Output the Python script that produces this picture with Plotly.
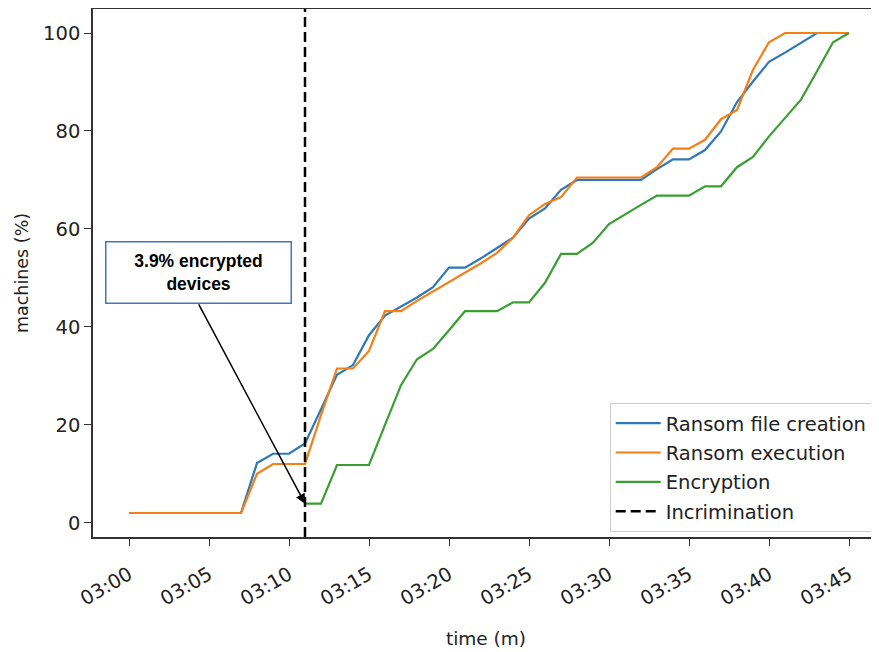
import plotly.graph_objects as go

# ---------------- data ----------------
MINUTES = list(range(0, 46))                       # 03:00 ... 03:45, one point per minute
ENC_MINUTES = list(range(11, 46))                  # encryption starts at 03:11

RANSOM_FILE_CREATION = [2, 2, 2, 2, 2, 2, 2, 2, 12.2, 14.1, 14.1, 16.2, 23.2, 30.2, 32.2, 38.3,
                        42.3, 44.2, 46.0, 48.1, 52.1, 52.1, 54.0, 56.1, 58.2, 62.1, 64.2, 68.0,
                        70.0, 70.0, 70.0, 70.0, 70.0, 72.2, 74.2, 74.2, 76.1, 79.9, 85.9, 90.1,
                        94.1, 96.0, 98.0, 100, 100, 100]
RANSOM_EXECUTION = [2, 2, 2, 2, 2, 2, 2, 2, 10.0, 12.0, 12.0, 12.0, 22.0, 31.5, 31.5, 35.1,
                    43.2, 43.2, 45.3, 47.2, 49.1, 51.0, 53.0, 55.1, 58.2, 62.8, 65.1, 66.5,
                    70.5, 70.5, 70.5, 70.5, 70.5, 72.6, 76.4, 76.4, 78.2, 82.4, 84.3, 92.5,
                    98.1, 100, 100, 100, 100, 100]
ENCRYPTION = [3.9, 3.9, 11.8, 11.8, 11.8, 20.0, 28.1, 33.4, 35.5, 39.3, 43.2, 43.2, 43.2,
              45.0, 45.0, 49.0, 54.9, 54.9, 57.2, 61.0, 63.0, 64.9, 66.8, 66.8, 66.8, 68.7,
              68.7, 72.6, 74.7, 78.9, 82.7, 86.4, 92.2, 98.1, 100]
INCRIMINATION_MINUTE = 11
ANNOTATION_TEXT = "3.9% encrypted<br>devices"

SERIES_NAMES = ["Ransom file creation", "Ransom execution", "Encryption", "Incrimination"]
COLORS = ["#2f78b8", "#f57f17", "#3a9e32", "black"]

DAY = "2021-01-01"


def t(m):
    total = 3 * 60 * 60 + m * 60
    h = int(total // 3600)
    mm = int((total % 3600) // 60)
    ss = total % 60
    return f"{DAY} {h:02d}:{mm:02d}:{ss:06.3f}"


x_all = [t(m) for m in MINUTES]
x_enc = [t(m) for m in ENC_MINUTES]

DASH = "10px,5px"

fig = go.Figure()
fig.add_trace(go.Scatter(x=x_all, y=RANSOM_FILE_CREATION, mode="lines", name=SERIES_NAMES[0],
                         legendgroup="a", line=dict(color=COLORS[0], width=2.2)))
fig.add_trace(go.Scatter(x=x_all, y=RANSOM_EXECUTION, mode="lines", name=SERIES_NAMES[1],
                         legendgroup="b", line=dict(color=COLORS[1], width=2.2)))
fig.add_trace(go.Scatter(x=x_enc, y=ENCRYPTION, mode="lines", name=SERIES_NAMES[2],
                         legendgroup="c", line=dict(color=COLORS[2], width=2.2)))
# legend entry for the vertical line
fig.add_trace(go.Scatter(x=[None], y=[None], mode="lines", name=SERIES_NAMES[3],
                         legendgroup="d", line=dict(color=COLORS[3], width=2.5, dash=DASH)))

fig.add_vline(x=t(INCRIMINATION_MINUTE), line=dict(color="black", width=2.5, dash=DASH))

FONT = "DejaVu Sans"

# arrow
fig.add_annotation(x=t(INCRIMINATION_MINUTE), y=ENCRYPTION[0], ax=t(4.31), ay=44.9,
                   axref="x", ayref="y", xref="x", yref="y", text="", showarrow=True,
                   arrowhead=2, arrowsize=1.3, arrowwidth=1.5, arrowcolor="black")
# text box
fig.add_annotation(x=t(4.34), y=51.2, xref="x", yref="y", text=ANNOTATION_TEXT,
                   showarrow=False, width=182, height=58, borderpad=1, borderwidth=1.5,
                   bordercolor="#4472C4", bgcolor="white", align="center",
                   font=dict(family="Liberation Sans", size=17.5, color="black", weight="bold"))

# page body has an 8px margin, so the figure is sized to end exactly at the window edge
fig.update_layout(
    width=871, height=644,
    margin=dict(l=85, r=0, t=1, b=115),
    paper_bgcolor="white", plot_bgcolor="white",
    font=dict(family=FONT, size=19, color="#222"),
    showlegend=True,
    legend=dict(x=0.992, y=0.0095, xanchor="right", yanchor="bottom",
                bgcolor="rgba(255,255,255,0.85)", bordercolor="#cccccc", borderwidth=1,
                tracegroupgap=1, itemwidth=45,
                font=dict(family=FONT, size=19.5, color="#222")),
)
fig.update_xaxes(
    type="date", range=[t(-2.25), t(46.875)],
    tickformat="%H:%M", dtick=5 * 60 * 1000, tick0=t(0), tickangle=-30,
    ticks="outside", ticklen=7, tickwidth=1.4, tickcolor="#333",
    ticklabelstandoff=10, tickfont=dict(size=19.5),
    showline=True, linecolor="#333", linewidth=1.5, mirror=True,
    showgrid=False, zeroline=False,
    title=dict(text="time (m)", standoff=23, font=dict(family=FONT, size=18.5)),
)
fig.update_yaxes(
    range=[-2.9, 104.9], dtick=20, tick0=0,
    ticks="outside", ticklen=7, tickwidth=1.4, tickcolor="#333",
    tickfont=dict(size=19.5),
    showline=True, linecolor="#333", linewidth=1.5, mirror=False,
    showgrid=False, zeroline=False,
    title=dict(text="machines (%)", standoff=10, font=dict(family=FONT, size=17.5)),
)

fig.write_html("out.html")
